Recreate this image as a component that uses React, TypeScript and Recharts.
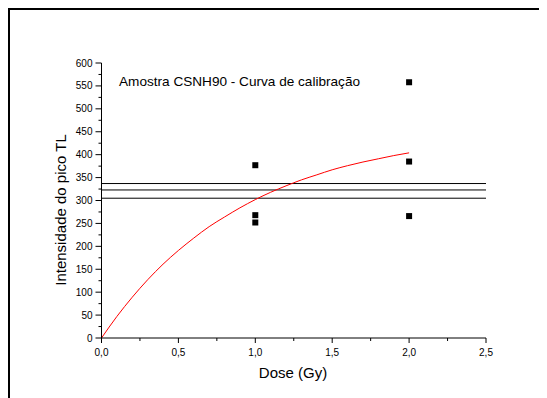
import {
  ComposedChart,
  Line,
  Scatter,
  XAxis,
  YAxis,
  ReferenceLine,
} from "recharts";

// calibration curve (dose in Gy, TL peak intensity)
const curveDose = [0, 0.1, 0.2, 0.3, 0.4, 0.5, 0.6, 0.7, 0.8, 0.9, 1.0, 1.1, 1.2, 1.3, 1.4, 1.5, 1.6, 1.7, 1.8, 1.9, 2.0];
const curveIntensity = [0, 47, 89, 127, 161, 191, 218, 243, 264, 284, 302, 318, 332, 345, 356, 367, 376, 384, 391, 398, 404];

// measured points
const pointDose = [1, 1, 1, 2, 2, 2];
const pointIntensity = [377, 268, 252, 558, 385, 266];

// horizontal levels
const levels = [337, 323, 305];

const xTicks = [0, 0.25, 0.5, 0.75, 1, 1.25, 1.5, 1.75, 2, 2.25, 2.5];
const yTicks = [
  0, 25, 50, 75, 100, 125, 150, 175, 200, 225, 250, 275, 300, 325, 350, 375, 400,
  425, 450, 475, 500, 525, 550, 575, 600,
];

const curve = curveDose.map((x, i) => ({ x, y: curveIntensity[i] }));
const points = pointDose.map((x, i) => ({ x, y: pointIntensity[i] }));

const font = "Arial, 'Liberation Sans', Helvetica, sans-serif";

const XTick = (props: any) => {
  const { x, y, payload } = props;
  const v = payload.value as number;
  const major = Number.isInteger(v * 2);
  return (
    <g>
      <line x1={x} y1={y} x2={x} y2={y + (major ? 5 : 3)} stroke="#000" />
      {major && (
        <text x={x} y={y + 18} textAnchor="middle" fontSize={10} fill="#000" fontFamily={font}>
          {v.toFixed(1).replace(".", ",")}
        </text>
      )}
    </g>
  );
};

const YTick = (props: any) => {
  const { x, y, payload } = props;
  const v = payload.value as number;
  const major = v % 50 === 0;
  return (
    <g>
      <line x1={x} y1={y} x2={x - (major ? 6 : 3)} y2={y} stroke="#000" />
      {major && (
        <text x={x - 9} y={y + 3.5} textAnchor="end" fontSize={10} fill="#000" fontFamily={font}>
          {v}
        </text>
      )}
    </g>
  );
};

const Square = (props: any) => {
  const { cx, cy } = props;
  return <rect x={cx - 3} y={cy - 3} width={6} height={6} fill="#000" />;
};

export default function App() {
  return (
    <div
      style={{
        borderTop: "2px solid #000",
        borderLeft: "2px solid #000",
        width: 537,
        height: 388,
        background: "#fff",
      }}
    >
      <ComposedChart
        width={537}
        height={388}
        margin={{ top: 53, right: 61, bottom: 30, left: 51.5 }}
      >
        <XAxis
          type="number"
          dataKey="x"
          domain={[0, 2.5]}
          ticks={xTicks}
          interval={0}
          tickSize={0}
          tickMargin={0}
          tickLine={false}
          tick={<XTick />}
          axisLine={{ stroke: "#000" }}
          height={30}
        />
        <YAxis
          type="number"
          dataKey="y"
          domain={[0, 600]}
          ticks={yTicks}
          interval={0}
          tickSize={0}
          tickMargin={0}
          tickLine={false}
          tick={<YTick />}
          axisLine={{ stroke: "#000" }}
          width={40}
        />
        {levels.map((v) => (
          <ReferenceLine key={v} y={v} stroke="#000" strokeWidth={1} />
        ))}
        <Line
          data={curve}
          dataKey="y"
          type="monotone"
          stroke="#ff0000"
          strokeWidth={1}
          dot={false}
          isAnimationActive={false}
        />
        <Scatter data={points} dataKey="y" shape={<Square />} isAnimationActive={false} />
        <text x={109} y={75.5} fontSize={13.6} fill="#000" fontFamily={font}>
          Amostra CSNH90 - Curva de calibração
        </text>
        <text
          x={55.5}
          y={200}
          transform="rotate(-90 55.5 200)"
          textAnchor="middle"
          fontSize={15}
          fill="#000"
          fontFamily={font}
        >
          Intensidade do pico TL
        </text>
        <text x={283} y={367.5} textAnchor="middle" fontSize={15} fill="#000" fontFamily={font}>
          Dose (Gy)
        </text>
      </ComposedChart>
    </div>
  );
}
